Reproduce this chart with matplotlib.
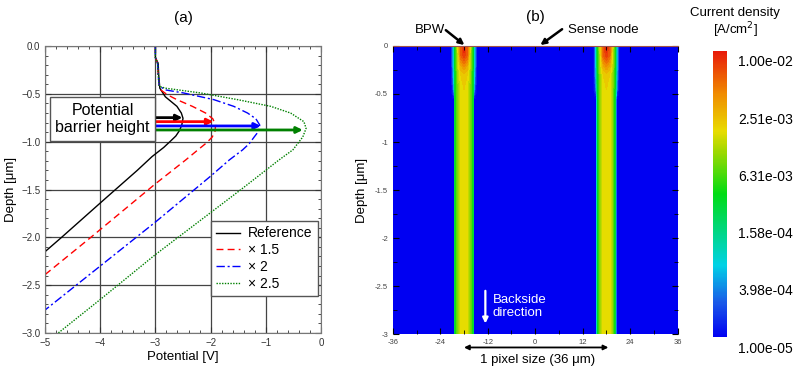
import numpy as np
import matplotlib
matplotlib.use("agg")
import matplotlib.pyplot as plt
from matplotlib.colors import LinearSegmentedColormap, Normalize
from matplotlib.patches import Rectangle
from matplotlib.ticker import MultipleLocator
import matplotlib.transforms as mtransforms

plt.rcParams['font.family'] = ['Liberation Sans', 'DejaVu Sans']

# ---- panel (a): potential profiles (potential [V], depth [um]) ----
ref_depth = [0.0, -0.12, -0.18, -0.3, -0.44, -0.53, -0.63, -0.70, -0.755, -0.82, -0.88,
             -0.94, -0.99, -1.06, -1.155, -1.3, -1.6, -2.0, -2.15]
ref_pot = [-3.0, -3.0, -2.95, -2.94, -2.92, -2.82, -2.61, -2.53, -2.50, -2.52, -2.56,
           -2.63, -2.72, -2.85, -3.06, -3.33, -3.92, -4.70, -5.0]

x15_depth = [0.0, -0.12, -0.18, -0.3, -0.42, -0.46, -0.51, -0.56, -0.63, -0.70, -0.76,
             -0.825, -0.89, -0.95, -1.01, -1.085, -1.19, -1.44, -2.0, -2.39]
x15_pot = [-3.0, -3.0, -2.96, -2.95, -2.93, -2.90, -2.78, -2.61, -2.33, -2.09, -1.96,
           -1.91, -1.92, -1.97, -2.07, -2.23, -2.45, -3.0, -4.17, -5.0]

x2_depth = [0.0, -0.12, -0.18, -0.3, -0.42, -0.46, -0.49, -0.56, -0.63, -0.70, -0.76,
            -0.825, -0.89, -0.95, -1.02, -1.085, -1.19, -1.36, -1.84, -2.76]
x2_pot = [-3.0, -3.0, -2.96, -2.95, -2.93, -2.80, -2.49, -1.94, -1.58, -1.33, -1.18,
          -1.11, -1.13, -1.21, -1.30, -1.42, -1.66, -2.0, -3.0, -5.0]

x25_depth = [0.0, -0.12, -0.18, -0.3, -0.42, -0.44, -0.49, -0.56, -0.63, -0.70, -0.79,
             -0.86, -0.95, -1.085, -1.19, -1.5, -2.18, -2.65, -3.0]
x25_pot = [-3.0, -3.0, -2.96, -2.95, -2.93, -2.82, -2.18, -1.51, -0.91, -0.55, -0.31,
           -0.27, -0.33, -0.51, -0.76, -1.45, -3.0, -4.0, -4.76]

labels_a = ['Reference', '× 1.5', '× 2', '× 2.5']
colors_a = ['black', '#ff0000', '#0000ff', '#008000']

# barrier-height arrows: depth, tip potential
arrow_depth = [-0.748, -0.79, -0.835, -0.877]
arrow_tip = [-2.51, -1.95, -1.09, -0.33]

# ---- panel (b): current density map, log10(J) ----
band_centers = [-18.0, 18.0]
band_dx = [-3.2, -2.8, -2.5, -2.3, -1.6, -0.8, 0.0, 0.8, 1.6, 2.3, 2.5, 2.8, 3.2]
map_depth = [0.0, -0.1, -0.2, -0.3, -0.45, -0.55, -3.0]
band_logj = [
    [-5, -4.5, -4.1, -3.6, -2.9, -2.3, -2.0, -2.3, -2.9, -3.6, -4.1, -4.5, -5],
    [-5, -4.5, -4.1, -3.6, -3.0, -2.3, -2.15, -2.3, -3.0, -3.6, -4.1, -4.5, -5],
    [-5, -4.5, -4.1, -3.6, -3.0, -2.6, -2.45, -2.6, -3.0, -3.6, -4.1, -4.5, -5],
    [-5, -4.6, -4.2, -3.65, -3.1, -2.8, -2.75, -2.8, -3.1, -3.65, -4.2, -4.6, -5],
    [-5, -4.8, -4.3, -3.7, -3.15, -2.85, -2.8, -2.85, -3.15, -3.7, -4.3, -4.8, -5],
    [-5, -5.0, -5.0, -3.7, -3.15, -2.85, -2.8, -2.85, -3.15, -3.7, -5.0, -5.0, -5],
    [-5, -5.0, -5.0, -3.7, -3.15, -2.85, -2.8, -2.85, -3.15, -3.7, -5.0, -5.0, -5],
]
bg_logj = -5.0

xb_ticks = [-36, -24, -12, 0, 12, 24, 36]
xb_labels = ['-36', '-24', '-12', '0', '12', '24', '36']
yb_ticks = [0, -0.5, -1, -1.5, -2, -2.5, -3]
yb_labels = ['0', '-0.5', '-1', '-1.5', '-2', '-2.5', '-3']
cbar_labels = ['1.00e-05', '3.98e-04', '1.58e-04', '6.31e-03', '2.51e-03', '1.00e-02']

fig = plt.figure(figsize=(8, 3.77), dpi=100)

# ================= (a) =================
ax = fig.add_axes([0.05625, 0.1167, 0.345, 0.761])
ax.plot(ref_pot, ref_depth, color=colors_a[0], lw=1.0, label=labels_a[0])
ax.plot(x15_pot, x15_depth, color=colors_a[1], lw=1.0, ls=(0, (5, 3)), label=labels_a[1])
ax.plot(x2_pot, x2_depth, color=colors_a[2], lw=1.0, ls=(0, (6, 2, 1.5, 2)), label=labels_a[2])
ax.plot(x25_pot, x25_depth, color=colors_a[3], lw=1.0, ls=(0, (1, 1)), label=labels_a[3])

for d, tip, c in zip(arrow_depth, arrow_tip, colors_a):
    ax.annotate('', xy=(tip, d), xytext=(-3.0, d),
                arrowprops=dict(arrowstyle='-|>', color=c, lw=2.0,
                                mutation_scale=9, shrinkA=0, shrinkB=0))

ax.add_patch(Rectangle((-4.91, -0.99), 1.91, 0.46, facecolor='white',
                       edgecolor='#555555', lw=1.0, zorder=5))
ax.text(-3.955, -0.76, 'Potential\nbarrier height', ha='center', va='center',
        fontsize=11.5, zorder=6, linespacing=1.2)

ax.set_xlim(-5, 0)
ax.set_ylim(-3, 0)
ax.set_xticks([-5, -4, -3, -2, -1, 0])
ax.set_xticklabels(['\u22125', '\u22124', '\u22123', '\u22122', '\u22121', '0'])
ax.set_yticks([0, -0.5, -1, -1.5, -2, -2.5, -3])
ax.set_yticklabels(['0.0', '\u22120.5', '\u22121.0', '\u22121.5', '\u22122.0', '\u22122.5', '\u22123.0'])
ax.xaxis.set_minor_locator(MultipleLocator(0.2))
ax.yaxis.set_minor_locator(MultipleLocator(0.1))
ax.tick_params(which='both', direction='in', top=True, right=True, labelsize=7, colors='#333333')
ax.tick_params(which='major', length=4)
ax.tick_params(which='minor', length=2)
ax.grid(True, which='major', color='#444444', lw=0.9)
for s in ax.spines.values():
    s.set_color('#777777')
ax.set_xlabel('Potential [V]', fontsize=9.5, labelpad=2)
ax.set_ylabel('Depth [\u03bcm]', fontsize=9.5, labelpad=3)
ax.set_title('(a)', fontsize=11, pad=17)
ax.legend(loc='upper right', bbox_to_anchor=(0.99, 0.391), fontsize=10, fancybox=False,
          edgecolor='#555555', framealpha=1, borderpad=0.4, labelspacing=0.2,
          handlelength=1.7, handletextpad=0.6, borderaxespad=0)

# ================= (b) =================
cmap = LinearSegmentedColormap.from_list('tcad', [
    (0.0, '#0000f2'), (0.12, '#1a5ae8'), (0.25, '#00d2e6'), (0.5, '#00dc14'),
    (0.65, '#a0d800'), (0.72, '#e8dc00'), (0.85, '#f08c00'), (1.0, '#e8190a')])
norm = Normalize(-5, -2)

bx = fig.add_axes([0.491, 0.114, 0.356, 0.764])
xs = [-36.0]
for c in band_centers:
    xs += [c + d for d in band_dx]
xs.append(36.0)
Z = np.array([[bg_logj] + row * len(band_centers) + [bg_logj] for row in band_logj])
bx.contourf(xs, map_depth, Z, levels=np.linspace(-5, -2, 31), cmap=cmap, norm=norm,
            extend='both')
bx.set_xlim(-36, 36)
bx.set_ylim(-3, 0)
bx.set_xticks(xb_ticks)
bx.set_xticklabels(xb_labels)
bx.set_yticks(yb_ticks)
bx.set_yticklabels(yb_labels)
bx.xaxis.set_minor_locator(MultipleLocator(6))
bx.yaxis.set_minor_locator(MultipleLocator(0.25))
bx.tick_params(which='both', direction='in', top=True, right=True, labelsize=5.5,
               colors='black', labelcolor='#444444')
bx.tick_params(which='major', length=4)
bx.tick_params(which='minor', length=3)
for s in bx.spines.values():
    s.set_visible(False)
bx.spines['top'].set_visible(True)
bx.spines['top'].set_color('#a0524a')
bx.spines['top'].set_linewidth(0.8)
bx.set_ylabel('Depth [\u03bcm]', fontsize=9.5, labelpad=5)
bx.set_title('(b)', fontsize=11, pad=18)

# annotations
bx.text(-26.5, 0.17, 'BPW', ha='center', va='center', fontsize=9.5, clip_on=False)
bx.annotate('', xy=(-17.9, 0.01), xytext=(-22.6, 0.165), annotation_clip=False,
            arrowprops=dict(arrowstyle='-|>', color='black', lw=1.8, mutation_scale=8,
                            shrinkA=0, shrinkB=0))
bx.text(8.3, 0.17, 'Sense node', ha='left', va='center', fontsize=9.5, clip_on=False)
bx.annotate('', xy=(1.3, 0.01), xytext=(6.8, 0.175), annotation_clip=False,
            arrowprops=dict(arrowstyle='-|>', color='black', lw=1.8, mutation_scale=8,
                            shrinkA=0, shrinkB=0))
bx.annotate('', xy=(-12.6, -2.89), xytext=(-12.6, -2.55),
            arrowprops=dict(arrowstyle='-|>', color='white', lw=1.6, mutation_scale=8,
                            shrinkA=0, shrinkB=0))
bx.text(-10.8, -2.71, 'Backside\ndirection', color='white', fontsize=9.5,
        ha='left', va='center', linespacing=1.1)
bx.annotate('', xy=(-18, -3.14), xytext=(18.5, -3.14), textcoords='data',
            annotation_clip=False,
            arrowprops=dict(arrowstyle='<|-|>', color='black', lw=1.3, mutation_scale=7,
                            shrinkA=0, shrinkB=0))
bx.text(0.5, -3.27, '1 pixel size (36 \u03bcm)', ha='center', va='center', fontsize=9.5,
        clip_on=False)

# colorbar
cax = fig.add_axes([0.891, 0.106, 0.0175, 0.759])
sm = plt.cm.ScalarMappable(norm=norm, cmap=cmap)
cb = fig.colorbar(sm, cax=cax)
cb.outline.set_visible(False)
cb.set_ticks(np.linspace(-5, -2, 6))
cb.set_ticklabels(cbar_labels)
cax.tick_params(length=0, labelsize=10, pad=8)
shift = mtransforms.ScaledTranslation(0, -0.10, fig.dpi_scale_trans)
for lab in cax.get_yticklabels():
    lab.set_transform(lab.get_transform() + shift)
fig.text(0.919, 0.965, 'Current density', ha='center', va='center', fontsize=9.5)
fig.text(0.919, 0.92, '[A/cm$^2$]', ha='center', va='center', fontsize=9.5)

fig.savefig('out.png', dpi=100)
